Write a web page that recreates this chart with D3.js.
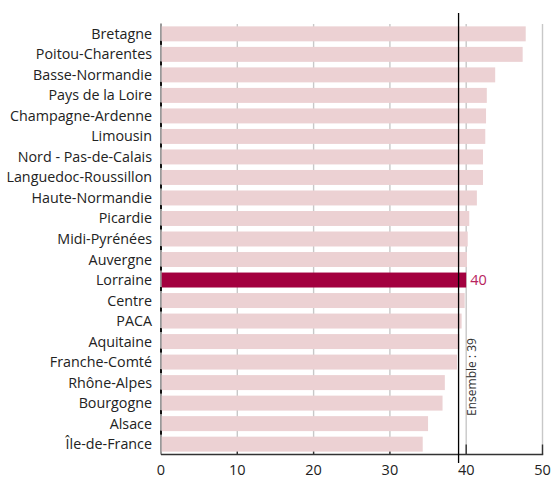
<!DOCTYPE html>
<html>
<head>
<meta charset="utf-8">
<script src="https://cdn.jsdelivr.net/npm/d3@7"></script>
<style>
  html, body { margin: 0; padding: 0; background: #fff; }
  svg { display: block; font-family: "Open Sans", "Noto Sans", sans-serif; }
</style>
</head>
<body>
<svg id="chart" width="557" height="484"></svg>
<script>
// Regions, top to bottom
const regions = [
  "Bretagne", "Poitou-Charentes", "Basse-Normandie", "Pays de la Loire",
  "Champagne-Ardenne", "Limousin", "Nord - Pas-de-Calais", "Languedoc-Roussillon",
  "Haute-Normandie", "Picardie", "Midi-Pyrénées", "Auvergne", "Lorraine",
  "Centre", "PACA", "Aquitaine", "Franche-Comté", "Rhône-Alpes", "Bourgogne",
  "Alsace", "Île-de-France"
];
const values = [
  47.8, 47.4, 43.8, 42.7,
  42.6, 42.5, 42.2, 42.2,
  41.4, 40.4, 40.2, 40.1, 40,
  39.8, 39.4, 39.1, 38.8, 37.2, 36.9,
  35.0, 34.3
];
const highlighted = "Lorraine";
const overall = 39;
const overallLabel = "Ensemble : 39";
const xTicks = [0, 10, 20, 30, 40, 50];

const svg = d3.select("#chart");
const plotLeft = 161, plotRight = 542.5, plotTop = 23.5, plotBottom = 454.5;

const x = d3.scaleLinear().domain([0, 50]).range([plotLeft, plotRight]);
const y = d3.scaleBand().domain(regions).range([plotTop, plotBottom])
  .paddingInner(0.27).paddingOuter(0.14);

// vertical gridlines
svg.append("g").selectAll("line").data(xTicks.filter(d => d > 0)).join("line")
  .attr("x1", d => x(d)).attr("x2", d => x(d))
  .attr("y1", plotTop + 0.5).attr("y2", plotBottom)
  .attr("stroke", "#c8c8c8").attr("stroke-width", 1.4);

// inner tick marks on the value axis
svg.append("g").selectAll("line").data(xTicks.filter(d => d > 0)).join("line")
  .attr("x1", d => x(d)).attr("x2", d => x(d))
  .attr("y1", plotBottom - 10).attr("y2", plotBottom)
  .attr("stroke", "#333").attr("stroke-width", 1.4);

// category axis line and its small ticks between bars
svg.append("line")
  .attr("x1", plotLeft).attr("x2", plotLeft).attr("y1", plotTop).attr("y2", plotBottom)
  .attr("stroke", "#555").attr("stroke-width", 1.2);
svg.append("g").selectAll("rect").data(regions.slice(1)).join("rect")
  .attr("x", plotLeft - 1).attr("width", 2)
  .attr("y", d => y(d) - y.step() * y.paddingInner() - 0.5)
  .attr("height", 4)
  .attr("fill", "#111");

// bars
svg.append("g").selectAll("rect").data(regions).join("rect")
  .attr("x", x(0) + 0.7)
  .attr("y", d => y(d))
  .attr("width", (d, i) => x(values[i]) - x(0) - 0.7)
  .attr("height", y.bandwidth())
  .attr("fill", d => d === highlighted ? "#a3003f" : "#ecd1d3");

// value axis line
svg.append("line")
  .attr("x1", plotLeft).attr("x2", plotRight + 0.7).attr("y1", plotBottom).attr("y2", plotBottom)
  .attr("stroke", "#333").attr("stroke-width", 1.4);

// category labels
svg.append("g").selectAll("text").data(regions).join("text")
  .attr("x", plotLeft - 9)
  .attr("y", d => y(d) + y.bandwidth() / 2)
  .attr("dy", "0.35em")
  .attr("text-anchor", "end")
  .attr("font-size", 14.3)
  .attr("fill", "#222")
  .text(d => d);

// value axis labels
svg.append("g").selectAll("text").data(xTicks).join("text")
  .attr("x", d => x(d))
  .attr("y", 470)
  .attr("dy", "0.35em")
  .attr("text-anchor", "middle")
  .attr("font-size", 14.5)
  .attr("fill", "#222")
  .text(d => d);

// value label of the highlighted region
const hi = regions.indexOf(highlighted);
svg.append("text")
  .attr("x", x(values[hi]) + 4)
  .attr("y", y(highlighted) + y.bandwidth() / 2)
  .attr("dy", "0.35em")
  .attr("font-size", 14.5)
  .attr("fill", "#b8235d")
  .text(d3.format("d")(values[hi]));

// overall reference line
svg.append("line")
  .attr("x1", x(overall)).attr("x2", x(overall))
  .attr("y1", 13).attr("y2", 463)
  .attr("stroke", "#000").attr("stroke-width", 1.3);

svg.append("text")
  .attr("transform", `translate(${x(overall) + 13},377) rotate(-90)`)
  .attr("dy", "0.35em")
  .attr("text-anchor", "middle")
  .attr("font-size", 12)
  .attr("fill", "#333")
  .text(overallLabel);
</script>
</body>
</html>
